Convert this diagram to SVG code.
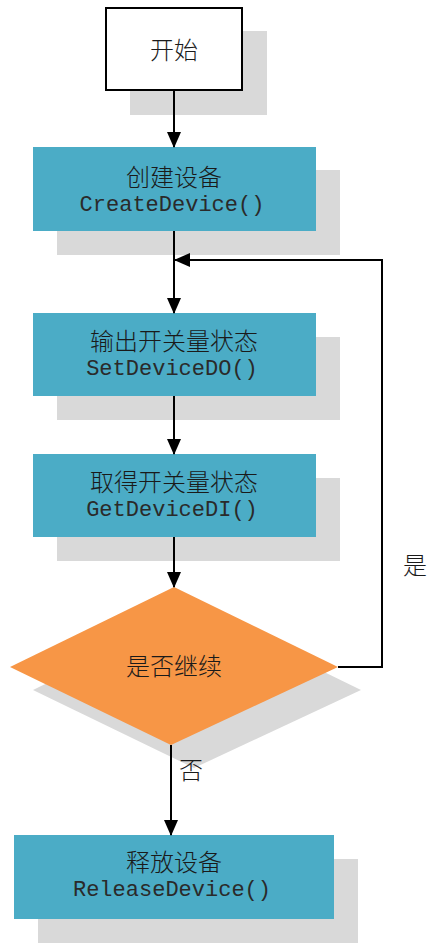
<svg xmlns="http://www.w3.org/2000/svg" width="430" height="943" viewBox="0 0 430 943">
<style>
.sh{fill:#d9d9d9}
.pr{fill:#4bacc6}
.t{font-family:"Liberation Mono","Noto Sans CJK SC",monospace;font-size:22px;fill:#2a2a2a;text-anchor:middle;dominant-baseline:central}
.c{font-family:"Noto Sans CJK SC",sans-serif;font-size:24px;font-weight:300;fill:#1a1a1a;text-anchor:middle;dominant-baseline:central}
.ln{stroke:#000;stroke-width:2;fill:none}
</style>
<defs>
<marker id="ah" markerWidth="16" markerHeight="14" refX="15" refY="7" orient="auto" markerUnits="userSpaceOnUse">
<path d="M0,0 L16,7 L0,14 Z" fill="#000"/>
</marker>
</defs>
<rect width="430" height="943" fill="#fff"/>
<g id="start">
<rect class="sh" x="130" y="31" width="137" height="84"/>
<rect x="106" y="8" width="136" height="82" fill="#fff" stroke="#000" stroke-width="2"/>
<text class="c" x="174" y="48">开始</text>
</g>
<g id="create">
<rect class="sh" x="57" y="170" width="283" height="85"/>
<rect class="pr" x="33" y="147" width="283" height="84"/>
<text class="c" x="174" y="175">创建设备</text>
<text class="t" x="172" y="205">CreateDevice()</text>
</g>
<g id="setdo">
<rect class="sh" x="57" y="337" width="283" height="83"/>
<rect class="pr" x="33" y="313" width="283" height="83"/>
<text class="c" x="174" y="339">输出开关量状态</text>
<text class="t" x="172" y="369">SetDeviceDO()</text>
</g>
<g id="getdi">
<rect class="sh" x="57" y="478" width="283" height="83"/>
<rect class="pr" x="33" y="454" width="283" height="83"/>
<text class="c" x="174" y="480">取得开关量状态</text>
<text class="t" x="172" y="510">GetDeviceDI()</text>
</g>
<g id="decision">
<polygon class="sh" points="197,610 361,690 194,768 33,690"/>
<polygon fill="#f79646" points="174,587 338,667 171,745 10,667"/>
<text class="c" x="174" y="664">是否继续</text>
</g>
<g id="release">
<rect class="sh" x="38" y="859" width="320" height="84"/>
<rect class="pr" x="14" y="835" width="320" height="84"/>
<text class="c" x="174" y="860">释放设备</text>
<text class="t" x="172" y="890">ReleaseDevice()</text>
</g>
<g id="connectors">
<line class="ln" x1="174" y1="90" x2="174" y2="147" marker-end="url(#ah)"/>
<line class="ln" x1="174" y1="231" x2="174" y2="313" marker-end="url(#ah)"/>
<line class="ln" x1="174" y1="396" x2="174" y2="454" marker-end="url(#ah)"/>
<line class="ln" x1="174" y1="537" x2="174" y2="587" marker-end="url(#ah)"/>
<polyline class="ln" points="338,667 382,667 382,260 175,260" marker-end="url(#ah)"/>
<line class="ln" x1="171" y1="745" x2="171" y2="835" marker-end="url(#ah)"/>
<text class="c" x="415" y="563">是</text>
<text class="c" x="191" y="768">否</text>
</g>
</svg>
